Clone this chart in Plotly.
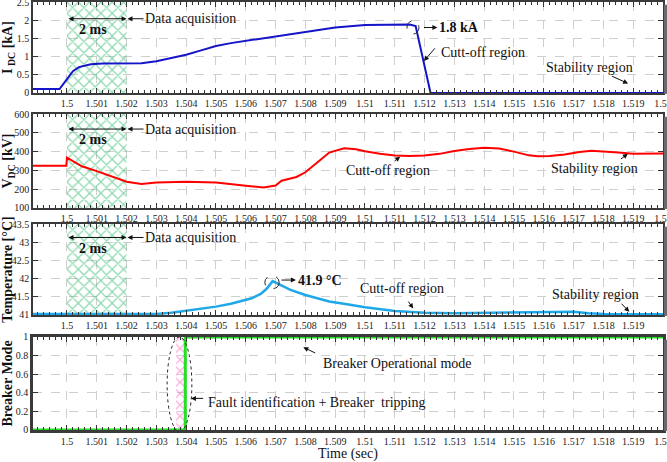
import plotly.graph_objects as go
from plotly.subplots import make_subplots

# time window and acquisition / tripping windows (sec)
T_RANGE = [1.49886, 1.52]
ACQ_WINDOW = [1.5, 1.502]
TRIP_WINDOW = [1.50366, 1.50396]

TICK_VALS = [round(1.5 + 0.001 * k, 3) for k in range(21)]
TICK_TEXT = [f"{v:.3f}".rstrip("0").rstrip(".") for v in TICK_VALS]

# DC current (kA)
t_idc = [1.49886, 1.49975, 1.4999, 1.5, 1.5002, 1.5004, 1.5008, 1.5012, 1.502, 1.5025,
         1.503, 1.5035, 1.504, 1.5045, 1.505, 1.5055, 1.506, 1.507, 1.508, 1.509,
         1.51, 1.511, 1.5115, 1.5117, 1.5122, 1.52]
idc = [0.11, 0.11, 0.27, 0.37, 0.6, 0.71, 0.79, 0.81, 0.82, 0.82,
       0.87, 0.95, 1.05, 1.17, 1.29, 1.37, 1.43, 1.55, 1.67, 1.8,
       1.87, 1.88, 1.88, 1.84, 0.0, 0.0]

# DC voltage (kV)
t_vdc = [1.49886, 1.49998, 1.5, 1.5005, 1.501, 1.5015, 1.502, 1.5025, 1.503, 1.504,
         1.505, 1.506, 1.5066, 1.507, 1.5072, 1.5077, 1.508, 1.5085, 1.5088, 1.5093,
         1.5097, 1.51, 1.5105, 1.511, 1.5115, 1.512, 1.5125, 1.513, 1.5135, 1.514,
         1.5145, 1.515, 1.5155, 1.5158, 1.5162, 1.5167, 1.5172, 1.5176, 1.518, 1.5185,
         1.519, 1.5195, 1.52]
vdc = [325, 325, 368, 322, 296, 270, 240, 228, 235, 240,
       236, 218, 209, 220, 245, 265, 290, 355, 395, 418,
       413, 402, 388, 379, 377, 379, 388, 403, 414, 420,
       416, 400, 380, 375, 376, 385, 398, 404, 401, 395,
       388, 387, 390]

# temperature (degC)
t_temp = [1.49886, 1.503, 1.5035, 1.504, 1.5045, 1.505, 1.5055, 1.506, 1.5062, 1.5065,
          1.5067, 1.5069, 1.5072, 1.5075, 1.508, 1.5085, 1.5088, 1.5095, 1.51, 1.511,
          1.512, 1.513, 1.514, 1.515, 1.516, 1.517, 1.5175, 1.518, 1.52]
temp = [41.03, 41.03, 41.06, 41.11, 41.16, 41.23, 41.31, 41.41, 41.46, 41.58,
        41.72, 41.93, 41.82, 41.69, 41.55, 41.44, 41.37, 41.28, 41.21, 41.11,
        41.06, 41.05, 41.06, 41.07, 41.09, 41.09, 41.05, 41.03, 41.02]

# breaker mode (0/1)
t_brk = [1.49886, 1.50397, 1.50397, 1.52]
brk = [0, 0, 1, 1]

Y_RANGES = [[0, 2.5], [100, 600], [41, 43.5], [0, 1]]
Y_DTICK = [0.5, 100, 0.5, 0.2]
Y_TITLES = ["<b>I<sub> DC</sub> [kA]</b>", "<b>V<sub>DC</sub> [kV]</b>",
            "<b>Temperature [°C]</b>", "<b>Breaker Mode</b>"]
DOMAINS = [[0.7874, 1.0], [0.5187, 0.7383], [0.2687, 0.4813], [0.0, 0.2173]]

FONT = "Liberation Serif"
HATCH_GREEN = "#17b35a"

fig = make_subplots(rows=4, cols=1)

# hatched data acquisition window in the first three panels
for row in (1, 2, 3):
    y0, y1 = Y_RANGES[row - 1]
    fig.add_trace(go.Scatter(
        x=[ACQ_WINDOW[0], ACQ_WINDOW[1], ACQ_WINDOW[1], ACQ_WINDOW[0], ACQ_WINDOW[0]],
        y=[y0, y0, y1, y1, y0], fill="toself", mode="lines", line=dict(width=0),
        fillcolor="rgba(0,0,0,0)",
        fillpattern=dict(shape="x", fgcolor=HATCH_GREEN, bgcolor="rgba(255,255,255,0)",
                         size=8, solidity=0.28),
        hoverinfo="skip", showlegend=False), row=row, col=1)

# pink tripping window
fig.add_trace(go.Scatter(
    x=[TRIP_WINDOW[0], TRIP_WINDOW[1], TRIP_WINDOW[1], TRIP_WINDOW[0], TRIP_WINDOW[0]],
    y=[0, 0, 1, 1, 0], fill="toself", mode="lines", line=dict(width=0),
    fillcolor="rgba(0,0,0,0)",
    fillpattern=dict(shape="x", fgcolor="#ff5cc0", bgcolor="rgba(255,255,255,0)",
                     size=8, solidity=0.3),
    hoverinfo="skip", showlegend=False), row=4, col=1)

fig.add_trace(go.Scatter(x=t_idc, y=idc, mode="lines", line=dict(color="#1414c8", width=2),
                         showlegend=False), row=1, col=1)
fig.add_trace(go.Scatter(x=t_vdc, y=vdc, mode="lines", line=dict(color="#ff0000", width=2),
                         showlegend=False), row=2, col=1)
fig.add_trace(go.Scatter(x=t_temp, y=temp, mode="lines", line=dict(color="#1ea8e8", width=2.5),
                         showlegend=False), row=3, col=1)
fig.add_trace(go.Scatter(x=t_brk, y=brk, mode="lines", line=dict(color="#22e022", width=3),
                         showlegend=False), row=4, col=1)

for i in range(4):
    row = i + 1
    text = list(TICK_TEXT)
    if row == 3:
        text[-1] = ""
    fig.update_xaxes(
        row=row, col=1, range=T_RANGE, tickmode="array", tickvals=TICK_VALS, ticktext=text,
        ticks="inside", ticklen=5, tickcolor="#333", showline=True, mirror="ticks",
        linecolor="#3a3a3a", linewidth=2.5 if row == 4 else 1.5, automargin=False,
        showgrid=True, gridcolor="#cfcfcf", griddash="dash", gridwidth=1,
        tickfont=dict(family=FONT, size=10, color="#222"), zeroline=False,
        ticklabeloverflow="allow",
        minor=dict(tickmode="linear", tick0=1.5, dtick=0.0002, ticks="inside",
                   ticklen=3, tickcolor="#333", showgrid=False),
    )
    fig.update_yaxes(
        row=row, col=1, range=Y_RANGES[i], dtick=Y_DTICK[i], domain=DOMAINS[i],
        ticks="inside", ticklen=5, tickcolor="#333", showline=True, mirror="ticks",
        linecolor="#3a3a3a", linewidth=2.5 if row == 4 else 1.5, automargin=False,
        showgrid=True, gridcolor="#cfcfcf", griddash="dash", gridwidth=1,
        tickfont=dict(family=FONT, size=10, color="#222"), zeroline=False,
        ticklabeloverflow="allow",
        title=dict(text=Y_TITLES[i], font=dict(family=FONT, size=14, color="#111"),
                   standoff=1),
    )

fig.update_xaxes(row=4, col=1, title=dict(text="Time (sec)", standoff=2,
                                          font=dict(family=FONT, size=14, color="#111")))

TXT = dict(family=FONT, size=14, color="#111")
BOLD = dict(family=FONT, size=14, color="#111")

# annotations for the three acquisition windows
acq_y = [(1, 2.04, 1.75), (2, 520, 463), (3, 43.13, 42.84)]
for row, ya, yt in acq_y:
    xr = "x" if row == 1 else f"x{row}"
    yr = "y" if row == 1 else f"y{row}"
    fig.add_annotation(x=ACQ_WINDOW[1], y=ya, ax=ACQ_WINDOW[0], ay=ya, xref=xr, yref=yr,
                       axref=xr, ayref=yr, text="", showarrow=True, arrowhead=2,
                       arrowside="end+start", arrowwidth=1, arrowcolor="#111")
    fig.add_annotation(x=1.50087, y=yt, xref=xr, yref=yr, text="<b>2 ms</b>",
                       showarrow=False, font=BOLD)
    fig.add_annotation(x=ACQ_WINDOW[1] + 0.00003, y=ya, ax=1.50257, ay=ya, xref=xr, yref=yr,
                       axref=xr, ayref=yr, text="Data acquisition", xanchor="left",
                       showarrow=True, arrowhead=2, arrowwidth=1, arrowcolor="#111",
                       font=TXT, borderpad=0)


def note(row, text, tx, ty, hx, hy, sx, sy, font=TXT, anchor="center"):
    xr = "x" if row == 1 else f"x{row}"
    yr = "y" if row == 1 else f"y{row}"
    fig.add_annotation(x=tx, y=ty, xref=xr, yref=yr, text=text, showarrow=False,
                       font=font, xanchor=anchor)
    fig.add_annotation(x=hx, y=hy, ax=sx, ay=sy, xref=xr, yref=yr, axref=xr, ayref=yr,
                       text="", showarrow=True, arrowhead=2, arrowwidth=1,
                       arrowcolor="#111")


# panel 1
fig.add_shape(type="circle", xref="x", yref="y", x0=1.51141, x1=1.51181, y0=1.62, y1=1.98,
              line=dict(color="#222", width=1, dash="dash"))
note(1, "<b>1.8 kA</b>", 1.51243, 1.8, 1.51243, 1.8, 1.51193, 1.8, font=BOLD, anchor="left")
note(1, "Cutt-off region", 1.51396, 1.12, 1.51198, 0.88, 1.51239, 1.27)
note(1, "Stability region", 1.51755, 0.7, 1.51883, 0.26, 1.51824, 0.48)

# panel 2
note(2, "Cutt-off region", 1.51078, 297, 1.51118, 373, 1.51094, 343)
note(2, "Stability region", 1.5177, 311, 1.51882, 388, 1.51854, 355)

# panel 3
fig.add_shape(type="circle", xref="x3", yref="y3", x0=1.50664, x1=1.50712, y0=41.72,
              y1=42.08, line=dict(color="#222", width=1, dash="dash"))
note(3, "<b>41.9 °C</b>", 1.50768, 41.96, 1.50768, 41.96, 1.50715, 41.96, font=BOLD,
     anchor="left")
note(3, "Cutt-off region", 1.51123, 41.72, 1.51162, 41.18, 1.51142, 41.41)
note(3, "Stability region", 1.51772, 41.57, 1.51887, 41.09, 1.51856, 41.35)

# panel 4
fig.add_shape(type="circle", xref="x4", yref="y4", x0=1.50336, x1=1.50419, y0=-0.02,
              y1=1.0, line=dict(color="#222", width=1, dash="dot"))
note(4, "Breaker Operational mode", 1.50853, 0.72, 1.50793, 0.89, 1.50838, 0.82,
     anchor="left")
note(4, "Fault identification + Breaker  tripping", 1.50466, 0.3, 1.50416, 0.34,
     1.50462, 0.34, anchor="left")

# shaded right edge of each frame
for i in range(4):
    yr = "y domain" if i == 0 else f"y{i + 1} domain"
    xr = "x domain" if i == 0 else f"x{i + 1} domain"
    fig.add_shape(type="line", xref=xr, yref=yr, x0=1.004, x1=1.004, y0=-0.01, y1=0.97,
                  line=dict(color="#6a6a6a", width=3))

fig.update_layout(
    width=667, height=462, margin=dict(l=33, r=4, t=2, b=32),
    paper_bgcolor="white", plot_bgcolor="white", showlegend=False,
    font=dict(family=FONT, size=10, color="#222"),
)

# drop the browser's default 8px body margin so the figure fills the window
fig.write_html("out.html", config={"displayModeBar": False},
               post_script="document.body.style.margin = '0';")
